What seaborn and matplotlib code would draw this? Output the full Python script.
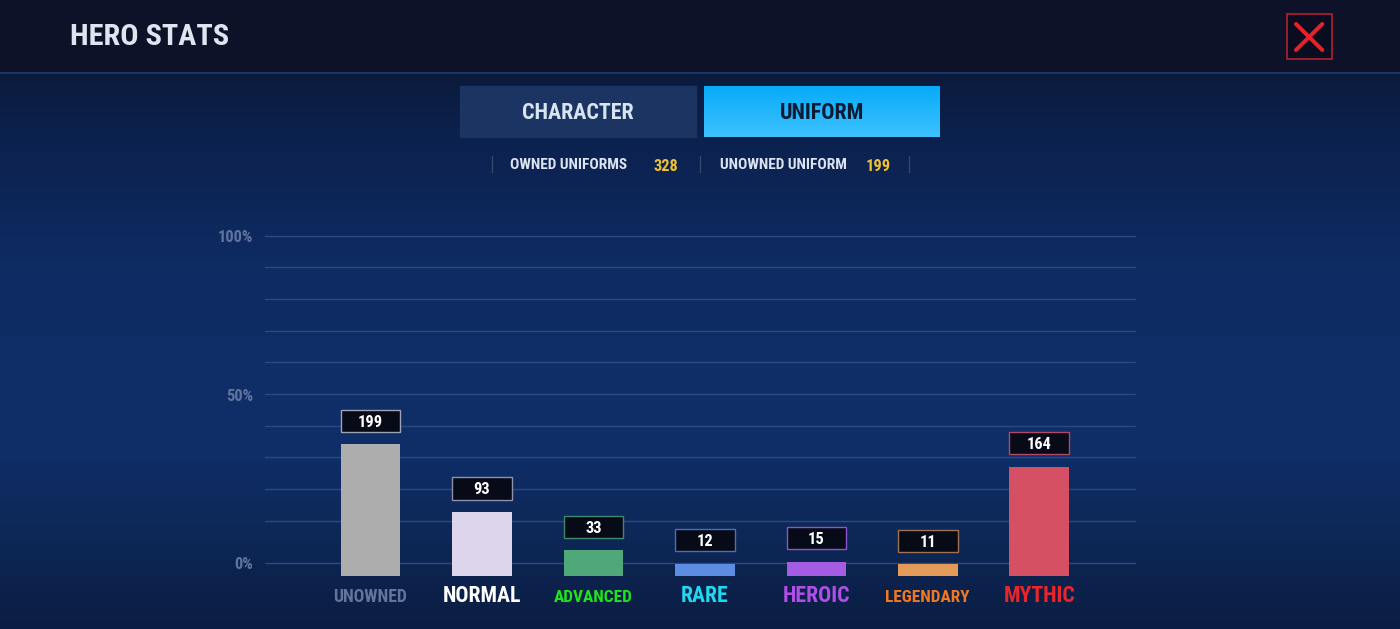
import numpy as np
import matplotlib
matplotlib.use("Agg")
import matplotlib.pyplot as plt
import matplotlib.font_manager as fm
from matplotlib.patches import Rectangle
from matplotlib.colors import to_rgb, LinearSegmentedColormap
import seaborn as sns

# ---------------- data ----------------
title = "HERO STATS"
tabs = ["CHARACTER", "UNIFORM"]
summary_labels = ["OWNED UNIFORMS", "UNOWNED UNIFORM"]
summary_values = [328, 199]
categories = ["UNOWNED", "NORMAL", "ADVANCED", "RARE", "HEROIC", "LEGENDARY", "MYTHIC"]
counts = [199, 93, 33, 12, 15, 11, 164]
y_tick_labels = ["100%", "50%", "0%"]

# ---------------- styles ----------------
bar_colors = ["#adadad", "#dcd5eb", "#4fa87a", "#5b8de2", "#a35ce2", "#e39a58", "#d65064"]
box_edge_colors = ["#9ea4b4", "#8e93ab", "#3e8a6e", "#4670c4", "#9052d4", "#a07254", "#b24862"]
label_colors = ["#64759a", "#ffffff", "#1ee31e", "#1ed8f0", "#b04fe8", "#f07820", "#e8262c"]
label_sizes = [12.7, 15.7, 12.4, 15.7, 15.7, 12.4, 15.7]

avail = {f.name for f in fm.fontManager.ttflist}
FONT = next(f for f in ["Liberation Sans Narrow", "Roboto Condensed", "Roboto", "DejaVu Sans"] if f in avail)
sns.set_style("dark")
plt.rcParams["font.family"] = [FONT, "DejaVu Sans"]
WEIGHT = "heavy"

W, H = 1400, 629
fig = plt.figure(figsize=(W / 100, H / 100), dpi=100)

# ---------------- UI layer (pixel coordinates) ----------------
ui = fig.add_axes([0, 0, 1, 1])
ui.set_xlim(0, W)
ui.set_ylim(H, 0)
ui.axis("off")

stops_y = [0, 74, 150, 260, 360, 460, 540, 629]
stops_c = ["#0b1b3d", "#0b1b3d", "#0c2250", "#0e2b62", "#0f2d66", "#0f2d66", "#0d2756", "#0b1d42"]
rows = np.arange(H) + 0.5
rgb = np.array([to_rgb(c) for c in stops_c])
col = np.stack([np.interp(rows, stops_y, rgb[:, k]) for k in range(3)], axis=1)
grad = np.repeat(col[:, None, :], 2, axis=1)
ui.imshow(grad, extent=[0, W, H, 0], aspect="auto", zorder=0, interpolation="nearest")

# header
ui.add_patch(Rectangle((0, 0), W, 71.5, color="#0e1229", zorder=1))
ui.plot([0, W], [72.5, 72.5], color="#1d3568", lw=1.4, zorder=1)
ui.text(70, 45, title, fontsize=21.8, color="#dce6f0", fontweight=WEIGHT, va="baseline", ha="left", zorder=2)

# close button
ui.add_patch(Rectangle((1286.7, 14.3), 45, 45, facecolor="#0a0d1f", edgecolor="#b3202e", lw=1.2, zorder=2))
ui.plot([1296, 1322.3], [24, 50], color="#e5222b", lw=2.9, solid_capstyle="round", zorder=3)
ui.plot([1322.3, 1296], [24, 50], color="#e5222b", lw=2.9, solid_capstyle="round", zorder=3)

# tabs
ui.add_patch(Rectangle((460, 86), 236, 50.7, color="#1c3461", zorder=2))
tab_grad = np.repeat(np.linspace(0, 1, 50)[:, None], 2, axis=1)
tab_cmap = LinearSegmentedColormap.from_list("tab", ["#08abf8", "#3dc2ff"])
ui.imshow(tab_grad, extent=[704, 940, 136.7, 86], cmap=tab_cmap, aspect="auto", zorder=2,
          interpolation="bilinear")
ui.text(578, 119, tabs[0], fontsize=15.8, color="#d8e4f0", ha="center", va="baseline", fontweight=WEIGHT, zorder=3)
ui.text(822, 119, tabs[1], fontsize=15.8, color="#0c1a33", ha="center", va="baseline", fontweight=WEIGHT, zorder=3)

# summary row
for xs in [491.7, 700, 909]:
    ui.plot([xs, xs], [156, 171.7], color="#34466a", lw=1.0, zorder=2)
ui.text(510, 169.3, summary_labels[0], fontsize=11.1, color="#dce4f0", ha="left", va="baseline",
        fontweight=WEIGHT, zorder=3)
ui.text(654, 170.7, str(summary_values[0]), fontsize=11.8, color="#f2c12e", ha="left", va="baseline",
        fontweight=WEIGHT, zorder=3)
ui.text(720, 169.3, summary_labels[1], fontsize=11.1, color="#dce4f0", ha="left", va="baseline",
        fontweight=WEIGHT, zorder=3)
ui.text(866, 170.7, str(summary_values[1]), fontsize=11.8, color="#f2c12e", ha="left", va="baseline",
        fontweight=WEIGHT, zorder=3)

# grid lines and percent labels
grid_y = [235.7 + 31.65 * k for k in range(10)] + [563]
for gy in grid_y:
    ui.plot([265, 1135], [gy, gy], color="#2c4a80", lw=1.0, zorder=1)
for lab, by in zip(y_tick_labels, [241.7, 400.7, 568.7]):
    ui.text(253.3, by, lab, fontsize=11.8, color="#5f759d", ha="right", va="baseline",
            fontweight=WEIGHT, zorder=3)

# ---------------- chart layer ----------------
s = 0.6385               # pixels per unit
base_px = 4.34           # minimum bar stub in pixels
ax_bottom_px, ax_top_px = 575.7, 200.0
ax_left_px = 370.5 - 111.45 / 2
ax_w_px = 111.45 * len(categories)
ymin = -base_px / s
ymax = ymin + (ax_bottom_px - ax_top_px) / s
ax = fig.add_axes([ax_left_px / W, (H - ax_bottom_px) / H, ax_w_px / W, (ax_bottom_px - ax_top_px) / H])
ax.patch.set_alpha(0)

bar_w = 0.534
sns.barplot(x=categories, y=counts, hue=categories, palette=bar_colors, dodge=False,
            legend=False, width=bar_w, errorbar=None, saturation=1, linewidth=0, ax=ax)
ax.set_xlim(-0.5, len(categories) - 0.5)
ax.set_ylim(ymin, ymax)
for p in ax.patches:
    h = p.get_height()
    p.set_y(ymin)
    p.set_height(h - ymin)

gap_u = 12.3 / s
box_h_u = 22.4 / s
for i, (v, ec) in enumerate(zip(counts, box_edge_colors)):
    ax.add_patch(Rectangle((i - bar_w / 2, v + gap_u), bar_w, box_h_u,
                           facecolor="#060b17", edgecolor=ec, lw=1.0, zorder=4, clip_on=False))
    ax.annotate(str(v), xy=(i, v), xytext=(0, 17.6), textcoords="offset pixels",
                ha="center", va="baseline", color="white", fontsize=11.8, fontweight=WEIGHT,
                zorder=5, annotation_clip=False)

for i, (cat, c, fs) in enumerate(zip(categories, label_colors, label_sizes)):
    ax.annotate(cat, xy=(i, 0), xycoords=("data", "axes fraction"), xytext=(0, -26.5),
                textcoords="offset pixels", ha="center", va="baseline", color=c,
                fontsize=fs, fontweight=WEIGHT, annotation_clip=False)

ax.axis("off")
fig.savefig("out.png", dpi=100)
